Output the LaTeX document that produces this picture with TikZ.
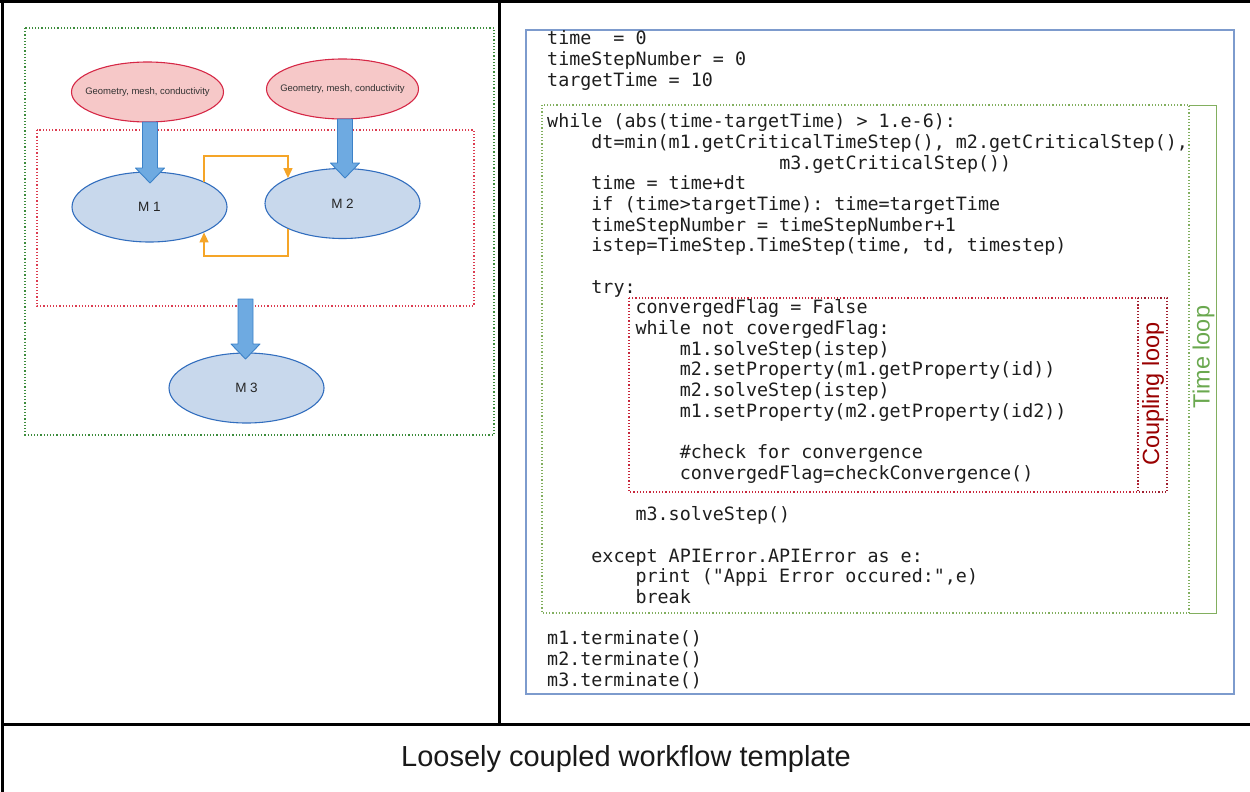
\documentclass[tikz,border=0pt]{standalone}
\usepackage{fontspec}
\setmainfont{Liberation Sans}
\newfontfamily\codefont{DejaVu Sans Mono}
\usetikzlibrary{shapes.geometric,arrows.meta,calc}

\definecolor{gridline}{RGB}{0,0,0}
\definecolor{outergreen}{RGB}{60,140,60}
\definecolor{innerred}{RGB}{220,60,80}
\definecolor{pinkfill}{RGB}{246,200,200}
\definecolor{pinkline}{RGB}{214,40,70}
\definecolor{bluefill}{RGB}{200,216,236}
\definecolor{blueline}{RGB}{50,110,190}
\definecolor{arrowfill}{RGB}{110,170,225}
\definecolor{arrowline}{RGB}{60,130,200}
\definecolor{feedback}{RGB}{245,165,40}
\definecolor{codeframe}{RGB}{125,155,205}
\definecolor{codeink}{RGB}{30,30,30}
\definecolor{timegreen}{RGB}{130,175,95}
\definecolor{timetext}{RGB}{106,168,79}
\definecolor{couplered}{RGB}{200,40,60}
\definecolor{coupletext}{RGB}{153,0,0}

% one line of the listing: name, line number, indent (characters), text
\newcommand{\codeline}[4]{%
  \node[codetext] (#1) at ({547+#3*11.05},{45+#2*20.68}) {#4};}

% broad block arrow from a start point straight down to a tip point
\newcommand{\fatarrow}[2]{%
  \draw[fatarrow] ($(#1)+(-7.5,0)$) -- ($(#1)+(7.5,0)$) -- ($(#2)+(7.5,-15)$)
    -- ($(#2)+(14.5,-15)$) -- (#2) -- ($(#2)+(-14.5,-15)$)
    -- ($(#2)+(-7.5,-15)$) -- cycle;}

% label that does not widen its ellipse
\newcommand{\slim}[1]{\makebox[0pt][c]{#1}}

\begin{document}
\begin{tikzpicture}[x=1pt,y=-1pt,
  gridrule/.style={draw=gridline,line width=3pt},
  dots/.style={line width=1.2pt,dash pattern=on 1.2pt off 2pt},
  input/.style={ellipse,draw=pinkline,fill=pinkfill,line width=1.1pt,
    minimum width=152pt,minimum height=60pt,inner sep=0pt,
    font=\fontsize{9.5}{11}\selectfont,text=black!80},
  model/.style={ellipse,draw=blueline,fill=bluefill,line width=1.1pt,
    minimum width=155pt,minimum height=70pt,inner sep=0pt,
    font=\fontsize{13.5}{15}\selectfont,text=black!85},
  fatarrow/.style={draw=arrowline,fill=arrowfill,line width=0.9pt,line join=round},
  exchange/.style={draw=feedback,line width=1.5pt,
    -{Triangle[length=10pt,width=9pt]}},
  codetext/.style={anchor=base west,inner sep=0pt,text=codeink,
    font=\codefont\fontsize{18.35}{20}\selectfont\frenchspacing},
  looplabel/.style={rotate=90,inner sep=0pt,font=\fontsize{23.5}{26}\selectfont}]

\useasboundingbox (0,0) rectangle (1250,792);

% ---- table rules ----
\draw[gridrule] (0,2) -- (1250,2);
\draw[gridrule] (2,0.5) -- (2,792);
\draw[gridrule] (499,2) -- (499,724);
\draw[gridrule] (2,724) -- (1250,724);

% ---- left cell: coupling scheme ----
\draw[dots,draw=outergreen] (25,28) rectangle (494,435);
\draw[dots,draw=innerred] (37,130) rectangle (474,306);

\node[input] (g1) at (147.5,92) {\slim{Geometry, mesh, conductivity}};
\node[input] (g2) at (342.5,89) {\slim{Geometry, mesh, conductivity}};
\node[model] (m1) at (149.5,207) {M 1};
\node[model] (m2) at (342.5,203.5) {M 2};
\node[model] (m3) at (246.5,388) {M 3};

\coordinate (a1s) at (150,122);   \coordinate (a1e) at (150,183);
\coordinate (a2s) at (345,119);   \coordinate (a2e) at (345,178);
\coordinate (a3s) at (245.5,299); \coordinate (a3e) at (245.5,359);
\fatarrow{a1s}{a1e}
\fatarrow{a2s}{a2e}
\fatarrow{a3s}{a3e}

\coordinate (upper) at (0,156);
\coordinate (lower) at (0,256);
\draw[exchange] (m1.25) -- (m1.25 |- upper) -| (m2.155);
\draw[exchange] (m2.-155) -- (m2.-155 |- lower) -| (m1.-25);

% ---- right cell: driver script ----
\draw[draw=codeframe,line width=1.4pt] (526,30) rectangle (1234,694);

% time loop frame and its label strip
\draw[dots,draw=timegreen] (542,105) rectangle (1189,613);
\draw[draw=timegreen,line width=1pt] (1189,105) -- (1216,105) -- (1216,613) -- (1189,613);
\node[looplabel,text=timetext] (tl) at (1203.5,357) {Time loop};

% coupling loop frame and its label strip
\draw[dots,draw=couplered] (629,298) rectangle (1138,492);
\draw[dots,draw=couplered!80!black] (1138,298) rectangle (1167,492);
\node[looplabel,text=coupletext] (cl) at (1153,394) {Coupling loop};

\codeline{c0}{0}{0}{time~~= 0}
\codeline{c1}{1}{0}{timeStepNumber = 0}
\codeline{c2}{2}{0}{targetTime = 10}
\codeline{c4}{4}{0}{while (abs(time-targetTime) > 1.e-6):}
\codeline{c5}{5}{4}{dt=min(m1.getCriticalTimeStep(), m2.getCriticalStep(),}
\codeline{c6}{6}{21}{m3.getCriticalStep())}
\codeline{c7}{7}{4}{time = time+dt}
\codeline{c8}{8}{4}{if (time>targetTime): time=targetTime}
\codeline{c9}{9}{4}{timeStepNumber = timeStepNumber+1}
\codeline{c10}{10}{4}{istep=TimeStep.TimeStep(time, td, timestep)}
\codeline{c12}{12}{4}{try:}
\codeline{c13}{13}{8}{convergedFlag = False}
\codeline{c14}{14}{8}{while not covergedFlag:}
\codeline{c15}{15}{12}{m1.solveStep(istep)}
\codeline{c16}{16}{12}{m2.setProperty(m1.getProperty(id))}
\codeline{c17}{17}{12}{m2.solveStep(istep)}
\codeline{c18}{18}{12}{m1.setProperty(m2.getProperty(id2))}
\codeline{c20}{20}{12}{\#check for convergence}
\codeline{c21}{21}{12}{convergedFlag=checkConvergence()}
\codeline{c23}{23}{8}{m3.solveStep()}
\codeline{c25}{25}{4}{except APIError.APIError as e:}
\codeline{c26}{26}{8}{print ("Appi Error occured:",e)}
\codeline{c27}{27}{8}{break}
\codeline{c29}{29}{0}{m1.terminate()}
\codeline{c30}{30}{0}{m2.terminate()}
\codeline{c31}{31}{0}{m3.terminate()}

% ---- caption row ----
\node[font=\fontsize{29}{33}\selectfont,text=black!90] (caption) at (626,759)
  {Loosely coupled workflow template};
\end{tikzpicture}
\end{document}
